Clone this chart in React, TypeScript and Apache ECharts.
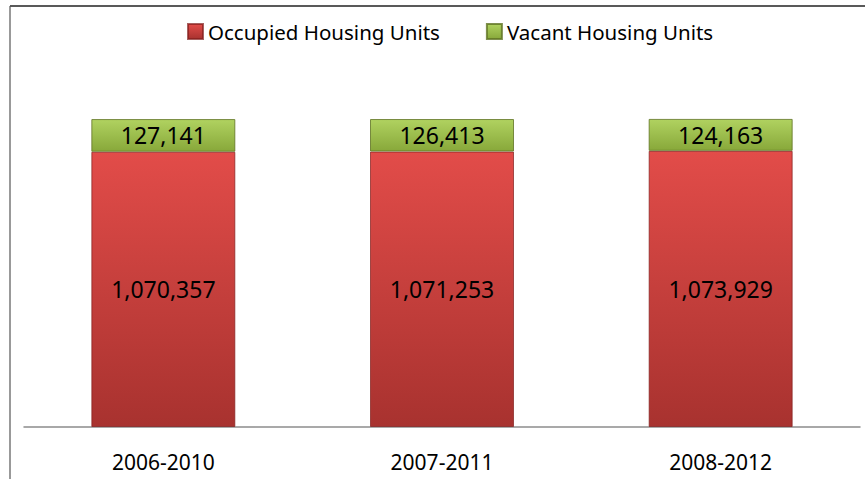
import React, { useEffect, useRef } from "react";
import * as echarts from "echarts";

const categories = ["2006-2010", "2007-2011", "2008-2012"];
const occupied = [1070357, 1071253, 1073929];
const vacant = [127141, 126413, 124163];
const seriesNames = ["Occupied Housing Units", "Vacant Housing Units"];

const FONT = "Noto Sans";

export default function App() {
  const ref = useRef<HTMLDivElement>(null);
  useEffect(() => {
    document.body.style.margin = "0";
    const chart = echarts.init(ref.current!, null, { renderer: "svg" });
    const fmt = (p: any) => Number(p.value).toLocaleString("en-US");
    chart.setOption({
      animation: false,
      backgroundColor: "#ffffff",
      textStyle: { fontFamily: FONT },
      legend: {
        top: 16,
        left: 182,
        icon: "rect",
        itemWidth: 15,
        itemHeight: 15,
        itemGap: 46,
        textStyle: { fontFamily: FONT, fontSize: 20.5, color: "#000" },
        data: seriesNames,
      },
      grid: { left: 24, right: 5, top: 67, bottom: 52 },
      xAxis: {
        type: "category",
        data: categories,
        axisLine: { lineStyle: { color: "#8c8c8c", width: 1.5 } },
        axisTick: { show: false },
        axisLabel: { color: "#000", fontSize: 21, fontFamily: FONT, margin: 24 },
      },
      yAxis: { type: "value", show: false, min: 0, max: 1400000 },
      graphic: [
        { type: "line", shape: { x1: 10, y1: 6, x2: 865, y2: 6 }, style: { stroke: "#222", lineWidth: 1.5 } },
        { type: "line", shape: { x1: 10, y1: 6, x2: 10, y2: 479 }, style: { stroke: "#555", lineWidth: 1.2 } },
      ],
      series: [
        {
          name: seriesNames[0],
          type: "bar",
          stack: "total",
          barWidth: 144,
          data: occupied,
          itemStyle: {
            color: new echarts.graphic.LinearGradient(0, 0, 0, 1, [
              { offset: 0, color: "#e24c49" },
              { offset: 1, color: "#a8322f" },
            ]),
            borderColor: "rgba(130,30,28,0.7)",
            borderWidth: 1,
          },
          label: { show: true, position: "inside", color: "#000", fontSize: 23, fontFamily: FONT, formatter: fmt },
        },
        {
          name: seriesNames[1],
          type: "bar",
          stack: "total",
          barWidth: 144,
          data: vacant,
          itemStyle: {
            color: new echarts.graphic.LinearGradient(0, 0, 0, 1, [
              { offset: 0, color: "#b0d260" },
              { offset: 1, color: "#88a83a" },
            ]),
            borderColor: "rgba(95,115,35,0.8)",
            borderWidth: 1,
          },
          label: { show: true, position: "inside", color: "#000", fontSize: 23, fontFamily: FONT, formatter: fmt },
        },
      ],
    });
    return () => chart.dispose();
  }, []);
  return <div ref={ref} style={{ position: "absolute", left: 0, top: 0, width: 865, height: 479 }} />;
}
